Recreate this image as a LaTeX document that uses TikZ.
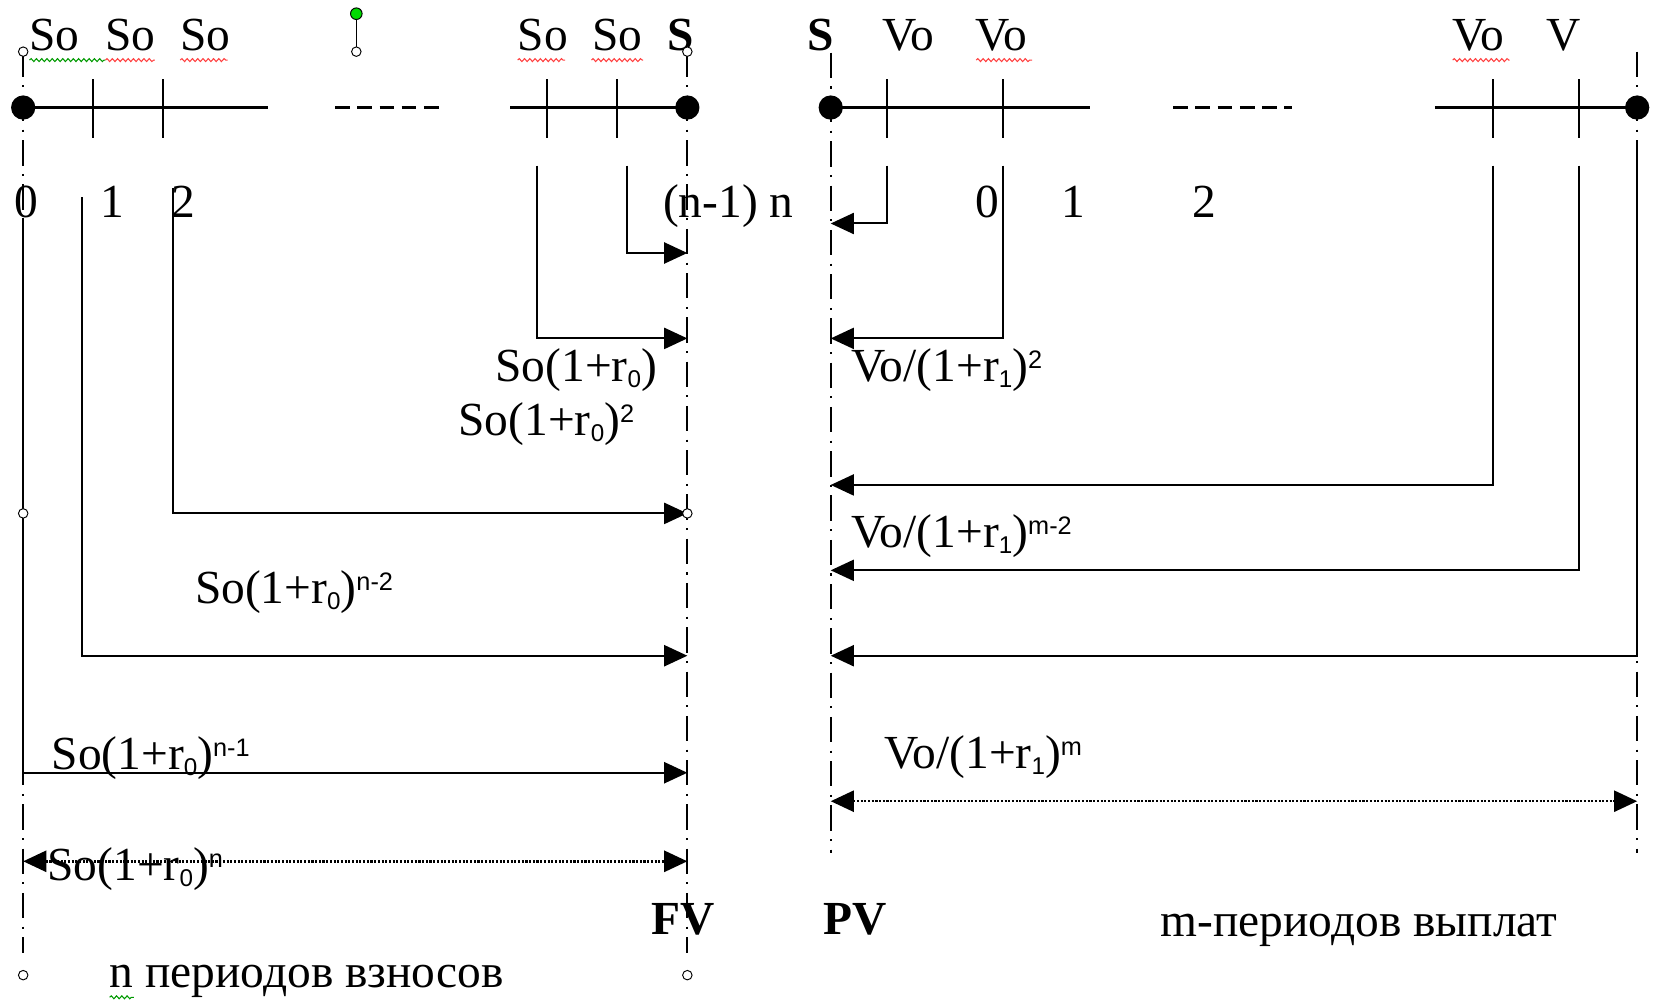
\documentclass[tikz,border=0pt]{standalone}
\usepackage{fontspec}
\setmainfont{Liberation Serif}
\newfontfamily\scrf{Liberation Sans}
\usetikzlibrary{arrows.meta,decorations.pathmorphing}
\newcommand\lowi[1]{\raisebox{-6pt}{\scrf\fontsize{23}{23}\selectfont #1}}
\newcommand\upi[1]{\raisebox{12pt}{\scrf\fontsize{24}{24}\selectfont #1}}
\begin{document}
\begin{tikzpicture}[x=1pt,y=-1pt,
  every node/.style={inner sep=0pt, outer sep=0pt, font=\fontsize{45}{52}\selectfont},
  axis/.style={line width=2.6pt},
  axdash/.style={line width=2.6pt, dash pattern=on 14pt off 7pt},
  tickm/.style={line width=1.8pt},
  guide/.style={line width=1.8pt, dash pattern=on 24pt off 8pt on 2pt off 8pt},
  flow/.style={line width=1.9pt, -{Triangle[length=22pt,width=20pt]}},
  span/.style={line width=2.4pt, dash pattern=on 2pt off 1.5pt, {Triangle[length=22pt,width=20pt]}-{Triangle[length=22pt,width=20pt]}},
  bigdot/.style={circle, fill=black, minimum size=23pt},
  handle/.style={circle, draw=black, fill=white, line width=0.9pt, minimum size=9pt},
  ghandle/.style={circle, draw=black, fill=green!85!black, line width=0.9pt, minimum size=11pt},
  lbl/.style={anchor=base west},
  spellr/.style={draw=red!75, line width=1pt, decorate, decoration={snake, segment length=5pt, amplitude=1.4pt}},
  spellg/.style={spellr, draw=green!60!black},
]
\useasboundingbox (0,0) rectangle (1568,950);

% ---------- vertical guide lines ----------
\coordinate (gLt) at (22,49);   \coordinate (gLb) at (22,904);
\coordinate (gFt) at (652,49);  \coordinate (gFb) at (652,904);
\coordinate (gPt) at (788,50);  \coordinate (gPb) at (788,809);
\coordinate (gRt) at (1553,49); \coordinate (gRb) at (1553,809);
\draw[guide] (gLt) -- (gLb);
\draw[guide] (gFt) -- (gFb);
\draw[guide] (gPt) -- (gPb);
\draw[guide] (gRt) -- (gRb);

% ---------- time axes ----------
\node[bigdot] (d0) at (22,102) {};
\node[bigdot] (dn) at (652,102) {};
\node[bigdot] (p0) at (788,102) {};
\node[bigdot] (pm) at (1553,102) {};
\coordinate (a1) at (254,102); \coordinate (a2) at (318,102);
\coordinate (a3) at (420,102); \coordinate (a4) at (484,102);
\coordinate (b1) at (1034,102); \coordinate (b2) at (1113,102);
\coordinate (b3) at (1226,102); \coordinate (b4) at (1361,102);
\draw[axis] (d0.center) -- (a1);
\draw[axdash] (a2) -- (a3);
\draw[axis] (a4) -- (dn.center);
\draw[axis] (p0.center) -- (b1);
\draw[axdash] (b2) -- (b3);
\draw[axis] (b4) -- (pm.center);
\foreach \x in {88,155,519,585,841,951,1416,1498}
  \draw[tickm] (\x,75) -- (\x,131);

% ---------- flows into FV ----------
\coordinate (sA) at (595,157); \coordinate (eA) at (652,240);
\coordinate (sB) at (509,157); \coordinate (eB) at (652,321);
\coordinate (sC) at (164,178); \coordinate (eC) at (652,487);
\coordinate (sD) at (78,187);  \coordinate (eD) at (652,622);
\coordinate (sE) at (22,207);  \coordinate (eE) at (652,733);
\coordinate (fL) at (22,817);  \coordinate (fR) at (652,817);
\draw[flow] (sA) |- (eA);
\draw[flow] (sB) |- (eB);
\draw[flow] (sC) |- (eC);
\draw[flow] (sD) |- (eD);
\draw[flow] (sE) |- (eE);
\draw[span] (fL) -- (fR);

% ---------- flows into PV ----------
\coordinate (sG) at (841,157);  \coordinate (eG) at (788,212);
\coordinate (sH) at (951,157);  \coordinate (eH) at (788,321);
\coordinate (sI) at (1416,157); \coordinate (eI) at (788,460);
\coordinate (sJ) at (1498,157); \coordinate (eJ) at (788,541);
\coordinate (sK) at (1553,145); \coordinate (eK) at (788,622);
\coordinate (pL) at (788,760);  \coordinate (pR) at (1553,760);
\draw[flow] (sG) |- (eG);
\draw[flow] (sH) |- (eH);
\draw[flow] (sI) |- (eI);
\draw[flow] (sJ) |- (eJ);
\draw[flow] (sK) |- (eK);
\draw[span] (pL) -- (pR);

% ---------- top labels ----------
\node[lbl] (t1) at (28,48) {So};
\node[lbl] (t2) at (100,48) {So};
\node[lbl] (t3) at (171,48) {So};
\node[lbl] (t4) at (491,48) {So};
\node[lbl] (t5) at (562,48) {So};
\node[lbl] (t6) at (633,48) {\textbf{S}};
\node[lbl] (t7) at (766,48) {\textbf{S}};
\node[lbl] (t8) at (837,48) {Vo};
\node[lbl] (t9) at (925,48) {Vo};
\node[lbl] (t10) at (1378,48) {Vo};
\node[lbl] (t11) at (1467,48) {V};

% ---------- period numbers ----------
\node[lbl] (n0) at (14,206) {0};
\node[lbl] (n1) at (95,206) {1};
\node[lbl] (n2) at (163,206) {2};
\node[lbl] (nn) at (629,206) {(n-1) n};
\node[lbl] (m0) at (925,206) {0};
\node[lbl] (m1) at (1007,206) {1};
\node[lbl] (m2) at (1131,206) {2};

% ---------- value labels ----------
\node[lbl] (v1) at (470,362) {So(1+r\lowi{0})};
\node[lbl] (v2) at (435,413) {So(1+r\lowi{0})\upi{2}};
\node[lbl] (v3) at (185,572) {So(1+r\lowi{0})\upi{n-2}};
\node[lbl] (v4) at (49,730) {So(1+r\lowi{0})\upi{n-1}};
\node[lbl] (v5) at (45,835) {So(1+r\lowi{0})\upi{n}};
\node[lbl] (w1) at (808,362) {Vo/(1+r\lowi{1})\upi{2}};
\node[lbl] (w2) at (808,519) {Vo/(1+r\lowi{1})\upi{m-2}};
\node[lbl] (w3) at (839,729) {Vo/(1+r\lowi{1})\upi{m}};

% ---------- bottom labels ----------
\node[lbl] (fv) at (618,886) {\textbf{FV}};
\node[lbl] (pv) at (781,886) {\textbf{PV}};
\node[lbl] (mp) at (1101,888) {m-периодов выплат};
\node[lbl] (np) at (104,937) {n периодов взносов};

% ---------- spell-check marks ----------
\draw[spellg] (28,57) -- (100,57);
\draw[spellr] (100,57) -- (147,57);
\draw[spellr] (171,57) -- (216,57);
\draw[spellr] (491,57) -- (536,57);
\draw[spellr] (561,57) -- (610,57);
\draw[spellr] (926,57) -- (979,57);
\draw[spellr] (1378,57) -- (1432,57);
\draw[spellg] (104,946) -- (127,946);

% ---------- selection handles ----------
\node[ghandle] (rot) at (338,13) {};
\node[handle] (h0) at (338,49) {};
\draw[line width=1pt] (rot) -- (h0);
\node[handle] (h1) at (22,49) {};
\node[handle] (h2) at (652,49) {};
\node[handle] (h3) at (22,487) {};
\node[handle] (h4) at (652,487) {};
\node[handle] (h5) at (22,925) {};
\node[handle] (h6) at (652,925) {};
\end{tikzpicture}
\end{document}
